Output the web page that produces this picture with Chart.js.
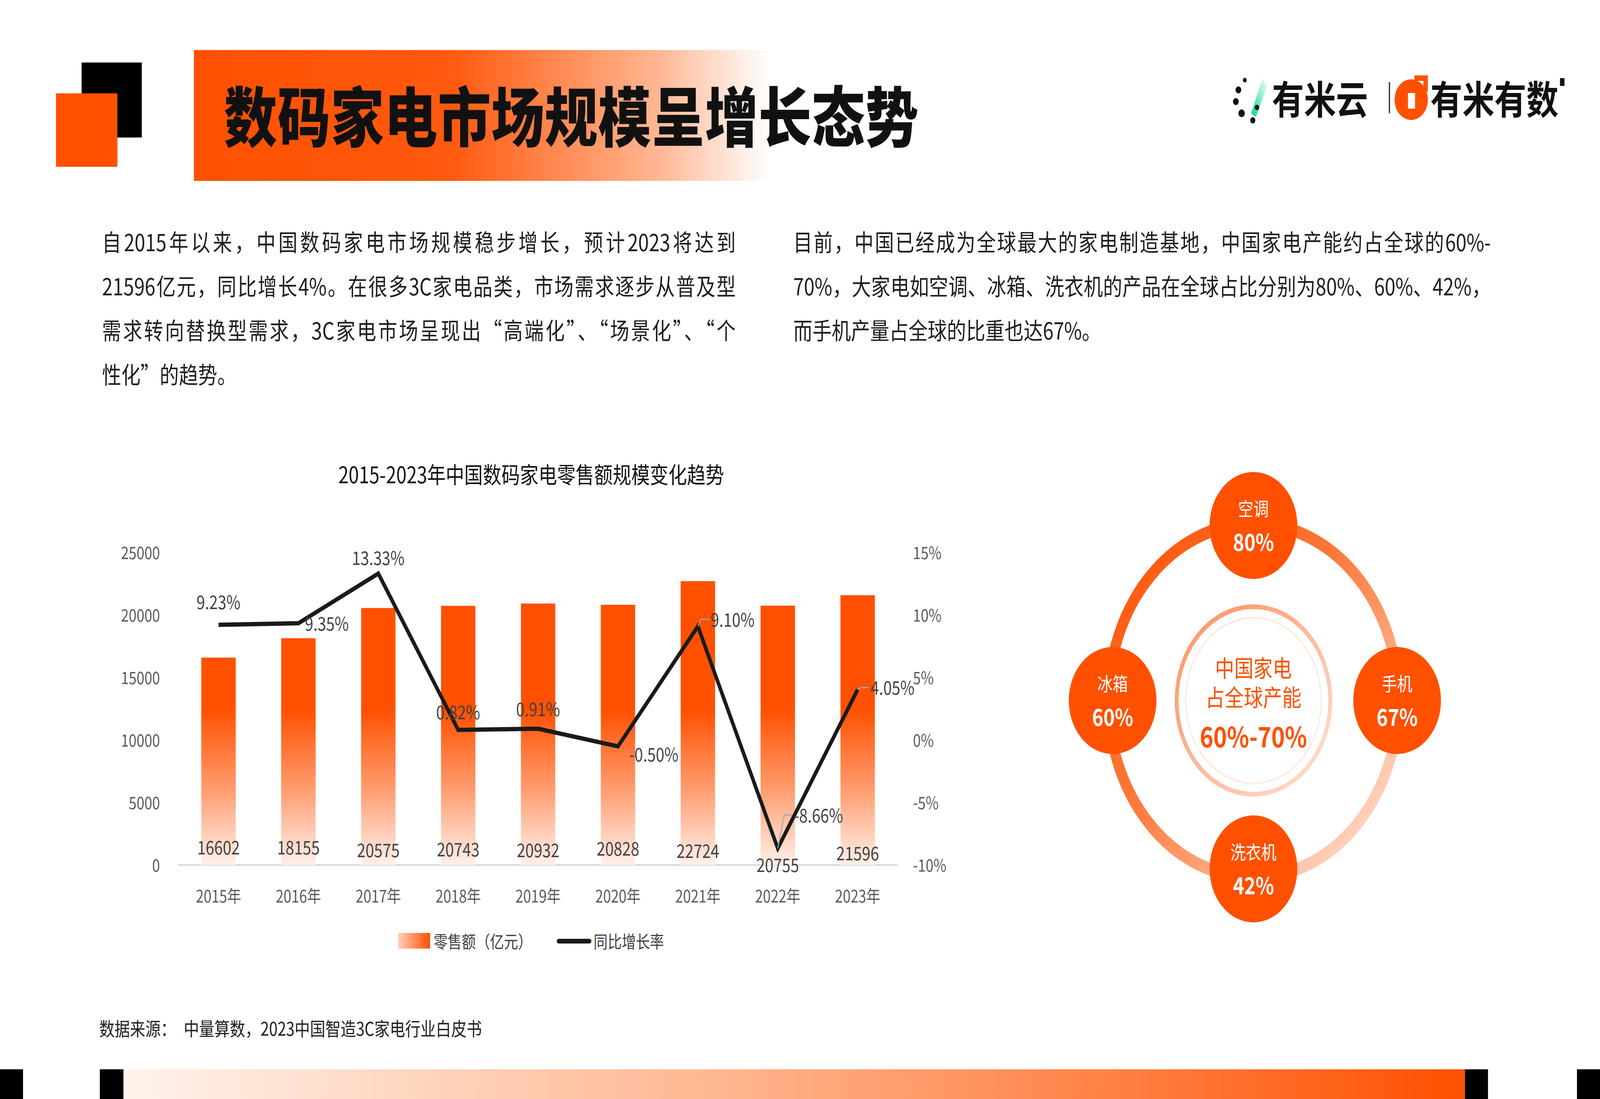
<!DOCTYPE html>
<html><head><meta charset="utf-8">
<script src="https://cdn.jsdelivr.net/npm/chart.js@4"></script>
<style>
html,body{margin:0;padding:0;background:#fff;overflow:hidden;}
#root{width:5000px;height:2813px;position:absolute;left:0;top:0;transform-origin:0 0;overflow:hidden;font-family:"Noto Sans CJK SC","Noto Sans",sans-serif;color:#222;background:#fff;}
.abs{position:absolute;}
.para{font-size:60px;line-height:113px;color:#1e1e1e;}
.para div{text-align:justify;text-align-last:justify;white-space:nowrap;}
.para div.last{text-align-last:left;}
</style></head><body>
<script>
const years = ['2015年','2016年','2017年','2018年','2019年','2020年','2021年','2022年','2023年'];
const sales = [16602,18155,20575,20743,20932,20828,22724,20755,21596];
const growth = [9.23,9.35,13.33,0.82,0.91,-0.50,9.10,-8.66,4.05];
const leftTicks = [0,5000,10000,15000,20000,25000];
const rightTicks = [-10,-5,0,5,10,15];
const shares = [['空调','80%'],['手机','67%'],['洗衣机','42%'],['冰箱','60%']];
</script>
<div id="root">
<div class="abs" style="left:255px;top:160px;width:188px;height:192px;background:#000"></div>
<div class="abs" style="left:175px;top:239px;width:192px;height:188px;background:#FF5000"></div>
<div class="abs" style="left:606px;top:128px;width:1800px;height:335px;background:linear-gradient(90deg,#FF5000 0%,#FF5A10 45%,#FFB590 80%,#FFFFFF 100%)"></div>
<div class="abs" style="left:700px;top:180px;font-size:166px;font-weight:900;line-height:220px;color:#111;letter-spacing:1px">数码家电市场规模呈增长态势</div>

<svg class="abs" style="left:3850px;top:180px" width="1050" height="140" viewBox="0 0 1050 140">
  <defs><linearGradient id="lg1" x1="0" y1="1" x2="1" y2="0"><stop offset="0" stop-color="#00D88A"/><stop offset="1" stop-color="#ffffff"/></linearGradient></defs>
  <polygon points="60,110 95,20 110,40 75,120" fill="url(#lg1)"/>
  <circle cx="20" cy="50" r="9" fill="#111"/><circle cx="12" cy="80" r="9" fill="#111"/><circle cx="40" cy="25" r="6" fill="#111"/>
  <circle cx="30" cy="110" r="10" fill="#111"/><circle cx="65" cy="128" r="8" fill="#111"/><circle cx="78" cy="95" r="7" fill="#111"/>
  <text x="125" y="112" font-size="100" font-weight="700" fill="#111" font-family="Noto Sans CJK SC">有米云</text>
  <rect x="490" y="30" width="4" height="80" fill="#333"/>
  <circle cx="560" cy="75" r="52" fill="#FF5000"/>
  <rect x="550" y="58" width="22" height="40" fill="#fff"/>
  <path d="M570 20 L605 20 L605 55" stroke="#FF5000" stroke-width="14" fill="none"/>
  <text x="620" y="112" font-size="100" font-weight="700" fill="#111" font-family="Noto Sans CJK SC">有米有数</text>
  <rect x="1025" y="20" width="14" height="20" fill="#111"/>
</svg>

<div class="abs para" style="left:319px;top:560px;width:1980px">
<div>自2015年以来，中国数码家电市场规模稳步增长，预计2023将达到</div>
<div>21596亿元，同比增长4%。在很多3C家电品类，市场需求逐步从普及型</div>
<div>需求转向替换型需求，3C家电市场呈现出“高端化”、“场景化”、“个</div>
<div class="last">性化”的趋势。</div>
</div>
<div class="abs para" style="left:2479px;top:560px;width:2180px">
<div>目前，中国已经成为全球最大的家电制造基地，中国家电产能约占全球的60%-</div>
<div>70%，大家电如空调、冰箱、洗衣机的产品在全球占比分别为80%、60%、42%，</div>
<div class="last">而手机产量占全球的比重也达67%。</div>
</div>

<div class="abs" style="left:330px;top:1150px;width:2700px;height:1225px"><canvas id="c" width="2700" height="1225"></canvas></div>
<div class="abs" style="left:1244px;top:2388px;width:100px;height:40px;background:linear-gradient(90deg,#FFD0B8,#FF5000)"></div>
<div class="abs" style="left:1355px;top:2378px;font-size:44px;line-height:60px;color:#404040">零售额（亿元）</div>
<div class="abs" style="left:1740px;top:2403px;width:108px;height:12px;background:#1a1a1a;border-radius:6px"></div>
<div class="abs" style="left:1855px;top:2378px;font-size:44px;line-height:60px;color:#404040">同比增长率</div>

<svg class="abs" style="left:3300px;top:1150px" width="1300" height="1300" viewBox="0 0 1300 1300" id="circ"></svg>

<div class="abs" style="left:310px;top:2598px;font-size:48px;line-height:64px;color:#222">数据来源：　中量算数，2023中国智造3C家电行业白皮书</div>

<div class="abs" style="left:0;top:2737px;width:72px;height:76px;background:#000"></div>
<div class="abs" style="left:312px;top:2737px;width:74px;height:76px;background:#000"></div>
<div class="abs" style="left:386px;top:2737px;width:4192px;height:76px;background:linear-gradient(90deg,#FFF3EC,#FFB58F 45%,#FF5000)"></div>
<div class="abs" style="left:4578px;top:2737px;width:72px;height:76px;background:#000"></div>
<div class="abs" style="left:4928px;top:2737px;width:72px;height:76px;background:#000"></div>
</div>

<script>
(function(){
  const r=document.getElementById('root');
  r.style.transform='scale('+(innerWidth/5000)+','+(innerHeight/2813)+')';
})();
(function(){
  const svg=document.getElementById('circ');
  const cx=617, cy=643, R=453;
  const pos=[[cx,cy-R+5],[cx+R-4,cy],[cx,cy+R-22],[cx-R+13,cy]];
  let s='<defs><linearGradient id="rg" x1="0" y1="0" x2="1" y2="1"><stop offset="0" stop-color="#FF5000"/><stop offset="0.45" stop-color="#FF7A3C"/><stop offset="1" stop-color="#FFEDE4"/></linearGradient>'+
    '<linearGradient id="ig" x1="0" y1="0" x2="1" y2="1"><stop offset="0" stop-color="#FF8F60"/><stop offset="1" stop-color="#FFE3D5"/></linearGradient></defs>';
  s+=`<circle cx="${cx}" cy="${cy}" r="${R}" fill="none" stroke="url(#rg)" stroke-width="32"/>`;
  s+=`<circle cx="${cx}" cy="${cy}" r="240" fill="#fff" stroke="url(#ig)" stroke-width="12"/>`;
  s+=`<circle cx="${cx}" cy="${cy}" r="212" fill="#fff" stroke="#FFE9DE" stroke-width="4"/>`;
  const f='font-family="Noto Sans CJK SC"';
  s+=`<text x="${cx}" y="${cy-60}" text-anchor="middle" font-size="60" fill="#FF5000" ${f}>中国家电</text>`;
  s+=`<text x="${cx}" y="${cy+15}" text-anchor="middle" font-size="60" fill="#FF5000" ${f}>占全球产能</text>`;
  s+=`<text x="${cx}" y="${cy+120}" text-anchor="middle" font-size="72" font-weight="700" fill="#FF5000" ${f}>60%-70%</text>`;
  shares.forEach((sh,i)=>{const [x,y]=pos[i];
    s+=`<circle cx="${x}" cy="${y}" r="137" fill="#FF5000"/>`;
    s+=`<text x="${x}" y="${y-25}" text-anchor="middle" font-size="48" fill="#fff" ${f}>${sh[0]}</text>`;
    s+=`<text x="${x}" y="${y+65}" text-anchor="middle" font-size="60" font-weight="700" fill="#fff" ${f}>${sh[1]}</text>`;});
  svg.innerHTML=s;
})();

const labelPlugin={id:'labels',afterDatasetsDraw(chart){
  const ctx=chart.ctx, x=chart.scales.x, y=chart.scales.y, y2=chart.scales.y2;
  ctx.save(); ctx.font='48px "Noto Sans CJK SC"'; ctx.fillStyle='#404040'; ctx.textAlign='center'; ctx.textBaseline='middle';
  const barDy=[-45,-45,-38,-40,-38,-42,-36,0,-30];
  sales.forEach((v,i)=>{ctx.fillText(String(v),x.getPixelForValue(i),y.getPixelForValue(0)+barDy[i]);});
  const off=[[0,-58,'center'],[20,0,'left'],[0,-40,'center'],[0,-45,'center'],[0,-50,'center'],[35,20,'left'],[40,-18,'left'],[50,-85,'left'],[40,-5,'left']];
  const lead=[null,null,null,null,null,null,[[0,0],[10,-18],[35,-18]],[[0,0],[20,-85],[45,-85]],[[0,0],[10,-5],[35,-5]]];
  ctx.strokeStyle='#A6A6A6'; ctx.lineWidth=3;
  growth.forEach((v,i)=>{const px=x.getPixelForValue(i),py=y2.getPixelForValue(v);const o=off[i];
    if(lead[i]){ctx.beginPath();lead[i].forEach((p,k)=>{k?ctx.lineTo(px+p[0],py+p[1]):ctx.moveTo(px+p[0],py+p[1]);});ctx.stroke();}
    ctx.textAlign=o[2]; ctx.fillText(v.toFixed(2)+'%',px+o[0],py+o[1]);});
  ctx.restore();
}};

new Chart(document.getElementById('c'),{
  data:{labels:years,datasets:[
    {type:'line',label:'同比增长率',data:growth,yAxisID:'y2',borderColor:'#1a1a1a',borderWidth:11,pointRadius:0,tension:0,order:0},
    {type:'bar',label:'零售额（亿元）',data:sales,yAxisID:'y',order:1,barPercentage:0.43,categoryPercentage:1,
     backgroundColor(ctx){const a=ctx.chart.chartArea;if(!a)return '#FF5000';
       const g=ctx.chart.ctx.createLinearGradient(0,a.top,0,a.bottom);
       g.addColorStop(0,'#FF5000');g.addColorStop(0.5,'#FF5000');g.addColorStop(0.75,'#FF9A6C');g.addColorStop(1,'#FFF1EA');return g;}}
  ]},
  options:{responsive:false,animation:false,devicePixelRatio:1,
    layout:{padding:{top:0,bottom:10,left:0,right:40}},
    plugins:{legend:{display:false},tooltip:{enabled:false},
      title:{display:true,text:'2015-2023年中国数码家电零售额规模变化趋势',color:'#111',font:{size:58,weight:'normal',family:'Noto Sans CJK SC'},padding:{top:30,bottom:165}}},
    scales:{
      x:{grid:{display:false},border:{color:'#D9D9D9',width:4},ticks:{color:'#595959',font:{size:44,family:'Noto Sans CJK SC'},padding:45}},
      y:{position:'left',min:0,max:25000,afterBuildTicks(ax){ax.ticks=leftTicks.map(v=>({value:v}));},
         afterFit(ax){ax.width=228;},grid:{display:false},border:{display:false},
         ticks:{color:'#595959',font:{size:44,family:'Noto Sans CJK SC'},padding:50,callback:v=>String(v)}},
      y2:{position:'right',min:-10,max:15,afterBuildTicks(ax){ax.ticks=rightTicks.map(v=>({value:v}));},
         afterFit(ax){ax.width=185;},grid:{display:false},border:{display:false},
         ticks:{color:'#595959',font:{size:44,family:'Noto Sans CJK SC'},padding:40,callback:v=>v+'%'}}
    }},
  plugins:[labelPlugin]
});
</script>
</body></html>
